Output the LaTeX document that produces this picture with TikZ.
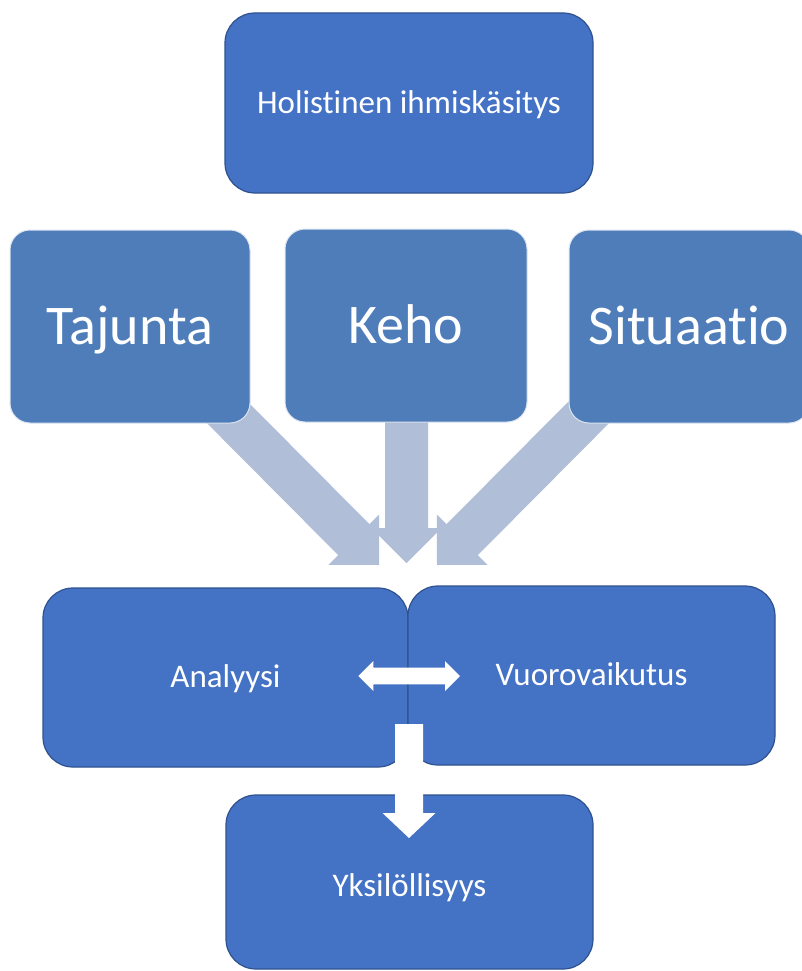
\documentclass[tikz,border=0pt]{standalone}
\usepackage{fontspec}
\setmainfont{Carlito}[Ligatures={NoCommon}]
\usetikzlibrary{calc}
\definecolor{topblue}{HTML}{4472C4}
\definecolor{topborder}{HTML}{2F528F}
\definecolor{midblue}{HTML}{4F7DB9}
\definecolor{midborder}{HTML}{DCE4F0}
\definecolor{paleblue}{HTML}{B0BED8}
% block arrow: #1 name, #2 start, #3 tip, #4 shaft half width, #5 head half width, #6 head length, #7 style
\newcommand{\blockarr}[7]{%
  \coordinate (#1-b) at ($(#3)!#6!(#2)$);
  \fill[#7] ($(#2)!#4!90:(#3)$) -- ($(#1-b)!#4!90:(#3)$) -- ($(#1-b)!#5!90:(#3)$) -- (#3)
    -- ($(#1-b)!#5!-90:(#3)$) -- ($(#1-b)!#4!-90:(#3)$) -- ($(#2)!#4!-90:(#3)$) -- cycle;}
\begin{document}
\begin{tikzpicture}[x=1pt,y=-1pt,
  topbox/.style={draw=topborder, line width=1.2pt, fill=topblue, rounded corners=30pt,
    inner sep=0pt, text=white, font=\fontsize{33}{40}\selectfont, text height=20.9pt, text depth=0pt},
  midbox/.style={draw=midborder, line width=1pt, fill=midblue, rounded corners=20pt,
    inner sep=0pt, text=white, font=\fontsize{56}{66}\selectfont, text height=35.4pt, text depth=0pt},
  palearrow/.style={fill=paleblue},
  whitearrow/.style={fill=white}]
\path[use as bounding box] (0,0) rectangle (802,971);
\clip (0,0) rectangle (802,971);
\fill[white] (0,0) rectangle (802,971);

% pale block arrows (drawn behind the boxes)
\coordinate (a2s) at (406.5,415);
\coordinate (a2t) at (406.5,563);
\coordinate (a1s) at (215,400);
\coordinate (a1t) at (379,565);
\coordinate (a3s) at (601,400);
\coordinate (a3t) at (437,565);
\blockarr{a2}{a2s}{a2t}{21.5pt}{35pt}{35pt}{palearrow}
\blockarr{a1}{a1s}{a1t}{22pt}{35.7pt}{35.7pt}{palearrow}
\blockarr{a3}{a3s}{a3t}{22pt}{35.7pt}{35.7pt}{palearrow}

% top box
\node[topbox, minimum width=368pt, minimum height=180pt] (holi) at (409,103) {Holistinen ihmiskäsitys};

% second row
\node[midbox, minimum width=240pt, minimum height=193pt] (taj) at (130,326.5) {Tajunta};
\node[midbox, minimum width=242pt, minimum height=193pt] (keho) at (406,325.5) {Keho};
\node[midbox, minimum width=240pt, minimum height=193pt] (sit) at (689,326.5) {Situaatio};

% bottom boxes
\node[topbox, minimum width=365pt, minimum height=179pt] (ana) at (225.5,677.5) {Analyysi};
\node[topbox, minimum width=367pt, minimum height=179pt] (vuo) at (591.5,675.5) {Vuorovaikutus};
\node[topbox, minimum width=367pt, minimum height=174pt] (yks) at (409.5,882) {\raisebox{-4pt}{Yksilöllisyys}};

% white arrows
\coordinate (dc) at (409.2,676);
\coordinate (dl) at (358.3,676);
\coordinate (dr) at (460,676);
\blockarr{dL}{dc}{dl}{8.4pt}{15pt}{15pt}{whitearrow}
\blockarr{dR}{dc}{dr}{8.4pt}{15pt}{15pt}{whitearrow}
\coordinate (ds) at (409,724);
\coordinate (dt) at (409,838);
\blockarr{dn}{ds}{dt}{14pt}{26.5pt}{25pt}{whitearrow}
\end{tikzpicture}
\end{document}
